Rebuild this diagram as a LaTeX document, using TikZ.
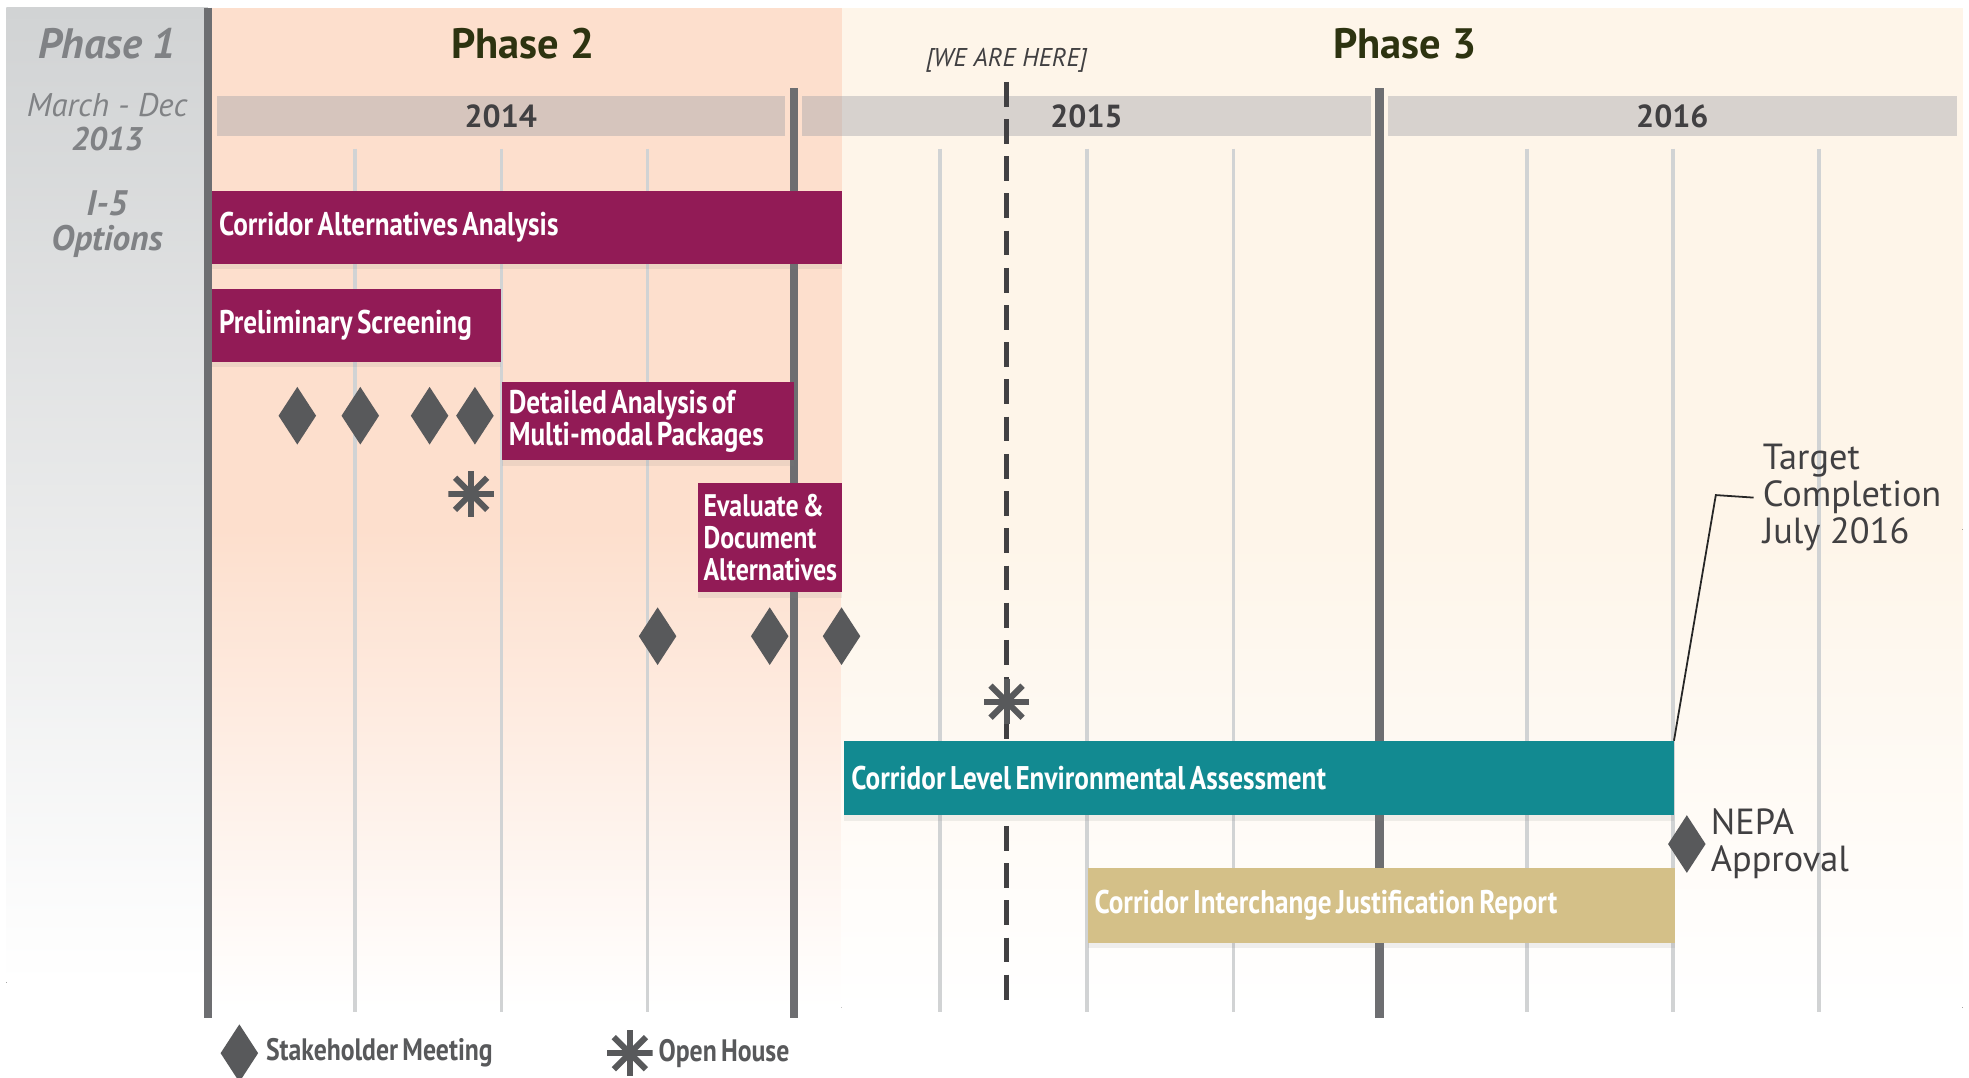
\documentclass[tikz,border=0pt]{standalone}
\usepackage{fontspec}
\setmainfont{PT Sans}
\newfontfamily\condensed[FakeStretch=0.83, WordSpace=0.65]{PT Sans}
\usetikzlibrary{positioning, shapes.geometric, shadows}
\definecolor{plum}{HTML}{921B56}
\definecolor{lagoon}{HTML}{128A91}
\definecolor{wheat}{HTML}{D4C088}
\definecolor{ink}{HTML}{414042}
\definecolor{marker}{HTML}{58595B}
\definecolor{rulegray}{HTML}{6D6E71}
\definecolor{quartergray}{HTML}{D1D3D4}
\definecolor{panelgray}{HTML}{D1D3D4}
\definecolor{bandgray}{HTML}{A0A2A8}
\definecolor{salmon}{HTML}{FDDFCD}
\definecolor{cream}{HTML}{FEF5E9}
\definecolor{phasegreen}{HTML}{2D3310}
\definecolor{fog}{HTML}{808285}
\tikzset{
x=0.025cm, y=-0.025cm, % one unit per pixel of the plan, y runs down
task/.style={rectangle, anchor=north west, inner xsep=4pt, inner ysep=0pt, align=flush left, text=white, font=\condensed\bfseries\fontsize{18.5}{18}\selectfont, execute at begin node={\hyphenpenalty=10000}, drop shadow={opacity=0.12, shadow xshift=0pt, shadow yshift=-3pt}}, % the coloured work bars
yearbar/.style={rectangle, fill=bandgray, fill opacity=0.41, text opacity=1, text=ink, minimum height=0.8cm, font=\bfseries\fontsize{18}{18}\selectfont}, % grey band with the year
meeting/.style={diamond, fill=marker, minimum width=0.75cm, minimum height=1.15cm, inner sep=0pt}, % stakeholder meeting
house/.style={rectangle, minimum size=0.9cm, inner sep=0pt, path picture={
  \foreach \a in {0,45,90,135}
    \draw[line width=3.4pt, draw=marker] ([shift={(\a:0.45cm)}]path picture bounding box.center) -- ([shift={(\a+180:0.45cm)}]path picture bounding box.center);
}}, % open house asterisk
phasehead/.style={text=phasegreen, font=\bfseries\fontsize{24}{24}\selectfont},
sidenote/.style={text=fog, align=center, font=\itshape\fontsize{18.5}{19}\selectfont},
callout/.style={text=ink, align=left, inner sep=0pt, font=\fontsize{20.5}{21}\selectfont},
legend/.style={text=marker, inner sep=0pt, font=\condensed\bfseries\fontsize{17.5}{17.5}\selectfont},
quarter/.style={quartergray, line width=2pt},
phaseline/.style={rulegray, line width=4.6pt},
nowline/.style={ink, line width=2.8pt, dash pattern=on 14pt off 7pt},
leader/.style={black!85, line width=1pt},
}

\begin{document}
\begin{tikzpicture}
\useasboundingbox (0,0) rectangle (1563,855);
% background of the three phases
\fill[top color=panelgray, bottom color=white] (5,6) rectangle (165,780);
\fill[salmon] (168,6) rectangle (668,420);
\fill[top color=salmon, bottom color=white] (168,420) rectangle (668,800);
\fill[cream] (668,6) rectangle (1558,420);
\fill[top color=cream, bottom color=white] (668,420) rectangle (1558,800);

% quarters and year boundaries
\foreach \x in {282,398,514,746,863,979,1212,1328,1444}
  \draw[quarter] (\x,118) -- (\x,803);
\foreach \x/\y in {165/6, 630/70, 1095/70}
  \draw[phaseline] (\x,\y) -- (\x,808);

\node[yearbar, minimum width=11.275cm] (y2014) at (397.5,92) {2014};
\node[yearbar, minimum width=11.275cm] (y2015) at (862.5,92) {2015};
\node[yearbar, minimum width=11.275cm] (y2016) at (1327.5,92) {2016};

\node[text=ink, font=\itshape\fontsize{14.5}{14.5}\selectfont] (here) at (799,48) {[WE ARE HERE]};
\draw[nowline] (799,65) -- (799,803);

\node[phasehead, text=fog, font=\bfseries\itshape\fontsize{24}{24}\selectfont] (phase1) at (85,35) {Phase 1};
\node[phasehead] (phase2) at (415,35) {Phase 2};
\node[phasehead] (phase3) at (1115,35) {Phase 3};
\node[sidenote] (span) at (85,97) {March - Dec\\\textbf{2013}};
\node[sidenote, font=\bfseries\itshape\fontsize{20}{20}\selectfont] (route) at (85,178) {I-5\\Options};

% work bars, text width = bar width less the two inner seps
\node[task, fill=plum, text width=12.22cm, minimum height=1.45cm] (caa) at (168,151) {Corridor Alternatives Analysis};
\node[task, fill=plum, text width=5.445cm, minimum height=1.45cm] (screen) at (168,229) {Preliminary Screening};
\node[task, fill=plum, text width=5.52cm, minimum height=1.55cm] (detail) at (398,303) {Detailed Analysis of\\Multi-modal Packages};
\node[task, fill=plum, inner xsep=3pt, text width=2.64cm, minimum height=2.175cm, font=\condensed\bfseries\fontsize{17.6}{18}\selectfont] (evaluate) at (554,383) {Evaluate \&\\Document\\Alternatives};
\node[task, fill=lagoon, text width=16.17cm, minimum height=1.475cm] (env) at (670,588) {Corridor Level Environmental Assessment};
\node[task, fill=wheat, text width=11.37cm, minimum height=1.475cm] (cijr) at (863,689) {Corridor Interchange Justification Report};

% meetings and open houses
\foreach \x [count=\i] in {236,286,341,377}
  \node[meeting] (m\i) at (\x,330) {};
\foreach \x [count=\i from 5] in {522,611,668}
  \node[meeting] (m\i) at (\x,505) {};
\node[house] (oh1) at (374,392) {};
\node[house] (oh2) at (799,557) {};

% milestones
\node[meeting] (nepa) at (1339,670) {};
\node[callout, right=2.5pt of nepa] (nepatext) {NEPA\\Approval};
\node[callout, anchor=west, inner xsep=5pt] (target) at (1392,395) {Target\\Completion\\July 2016};
\coordinate (bend) at (1362,393);
\draw[leader] (env.north east) -- (bend) -- (target.west);

% key
\node[meeting] (key1) at (190,836) {};
\node[legend, right=4pt of key1] (key1text) {Stakeholder Meeting};
\node[house] (key2) at (500,836) {};
\node[legend, right=3pt of key2] (key2text) {Open House};
\end{tikzpicture}
\end{document}
